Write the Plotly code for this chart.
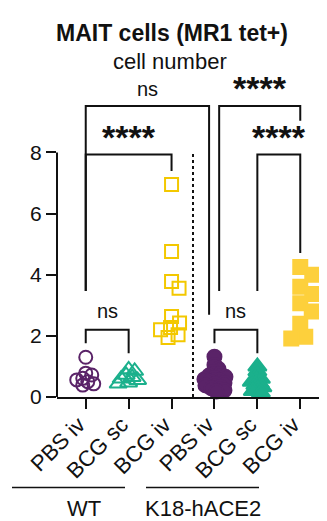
import plotly.graph_objects as go

# ---------------- data ----------------
categories = ["PBS iv", "BCG sc", "BCG iv", "PBS iv", "BCG sc", "BCG iv"]
groups = ["WT", "K18-hACE2"]

wt_pbs_iv = [1.30, 0.78, 0.72, 0.61, 0.56, 0.50, 0.43, 0.39]
wt_bcg_sc = [0.90, 0.85, 0.72, 0.65, 0.60, 0.55, 0.47, 0.43]
wt_bcg_iv = [6.95, 4.76, 3.78, 3.56, 2.63, 2.42, 2.27, 2.20, 2.04, 1.95]
k18_pbs_iv = [1.32, 1.05, 0.92, 0.82, 0.75, 0.70, 0.66, 0.62, 0.58, 0.54, 0.50,
              0.46, 0.42, 0.38, 0.33, 0.28, 0.22, 0.18]
k18_bcg_sc = [1.00, 0.85, 0.70, 0.60, 0.55, 0.50, 0.45, 0.40, 0.32, 0.25, 0.20, 0.15]
k18_bcg_iv = [4.25, 4.00, 3.61, 3.37, 3.07, 2.80, 2.40, 1.97, 1.91]

y_ticks = [0, 2, 4, 6, 8]

# comparisons: (left category, right category, label)
comparisons_top = [(0, 3, "ns"), (3, 5, "****")]
comparisons_mid = [(0, 2, "****"), (4, 5, "****")]
comparisons_low = [(0, 1, "ns"), (3, 4, "ns")]

# ---------------- geometry ----------------
W, H = 327, 521
ML, MR, MT, MB = 49, 6, 68, 132
PLOT_W = W - ML - MR
PLOT_H = H - MT - MB
YMAX = 10.5
XMIN, XMAX = -0.67, 5.67
PPU_Y = PLOT_H / YMAX
PPU_X = PLOT_W / (XMAX - XMIN)

FONT = "Liberation Sans, Arial, Helvetica, sans-serif"
INK = "#111111"

PURPLE = "#5a2368"
GREEN = "#1bb08c"
YELLOW_O = "#f3c800"
YELLOW_F = "#fdd03c"


def px_x(px):
    return (px - ML) / PLOT_W


def px_y(py):
    return (H - MB - py) / PLOT_H


def swarm(vals, d_px):
    placed = []
    offs = []
    for v in vals:
        y = v * PPU_Y
        best = None
        k = 0
        while best is None:
            cands = [0.0] if k == 0 else [k * 0.5, -k * 0.5]
            for x in cands:
                if all((x - a) ** 2 + (y - b) ** 2 >= d_px ** 2 for a, b in placed):
                    best = x
                    break
            k += 1
        placed.append((best, y))
        offs.append(best / PPU_X)
    return offs


series = [
    (0, wt_pbs_iv, "circle-open", PURPLE, 13, 6),
    (1, wt_bcg_sc, "triangle-up-open", GREEN, 15, 6),
    (2, wt_bcg_iv, "square-open", YELLOW_O, 13, 10),
    (3, k18_pbs_iv, "circle", PURPLE, 14, 5.5),
    (4, k18_bcg_sc, "triangle-up", GREEN, 16, 4.5),
    (5, k18_bcg_iv, "square", YELLOW_F, 14, 14),
]

fig = go.Figure()
for idx, vals, sym, col, size, d in series:
    offs = swarm(vals, d)
    fig.add_trace(go.Scatter(
        x=[idx + o for o in offs], y=vals, mode="markers",
        marker=dict(symbol=sym, color=col, size=size,
                    line=dict(color=col, width=2)),
        cliponaxis=False, showlegend=False, hoverinfo="y"))

shapes = []
annotations = []


def bracket(c1, c2, ytop, yl, yr, label, lsize, ly):
    line = dict(color=INK, width=2)
    shapes.append(dict(type="path", xref="x", yref="y",
                       path=f"M {c1},{yl} L {c1},{ytop} L {c2},{ytop} L {c2},{yr}",
                       line=line))
    annotations.append(dict(x=(c1 + c2) / 2, y=ly, xref="x", yref="y", text=label,
                            showarrow=False, yanchor="middle",
                            font=dict(family=FONT, size=lsize, color=INK)))


# top level
bracket(comparisons_top[0][0], comparisons_top[0][1] - 0.125, 9.52, 3.47, 2.69,
        comparisons_top[0][2], 20, 10.07)
bracket(comparisons_top[1][0] + 0.11, comparisons_top[1][1], 9.52, 3.47, 9.04,
        "<b>" + comparisons_top[1][2] + "</b>", 34, 10.1)
# mid level
bracket(comparisons_mid[0][0], comparisons_mid[0][1], 7.93, 3.47, 7.39,
        "<b>" + comparisons_mid[0][2] + "</b>", 34, 8.5)
bracket(comparisons_mid[1][0], comparisons_mid[1][1], 7.93, 3.47, 4.71,
        "<b>" + comparisons_mid[1][2] + "</b>", 34, 8.5)
# low level
for c1, c2, lab in comparisons_low:
    bracket(c1, c2, 2.2, 1.76, 1.43, lab, 20, 2.82)

# dotted separator
shapes.append(dict(type="line", xref="x", yref="y", x0=2.5, x1=2.5, y0=0, y1=8.05,
                   line=dict(color=INK, width=2, dash="dot")))
# y axis line (only up to 8)
shapes.append(dict(type="line", xref="paper", yref="y", x0=0, x1=0, y0=0, y1=8,
                   line=dict(color=INK, width=2)))

# group lines and labels
for (x0, x1, xc), name in zip([(4, 117, 57), (138, 251, 195)], groups):
    shapes.append(dict(type="line", xref="paper", yref="paper",
                       x0=px_x(x0), x1=px_x(x1), y0=px_y(479.5), y1=px_y(479.5),
                       line=dict(color=INK, width=1.5)))
    annotations.append(dict(x=px_x(xc), y=px_y(500), xref="paper", yref="paper",
                            text=name, showarrow=False, yanchor="middle",
                            font=dict(family=FONT, size=22, color=INK)))

# title
annotations.append(dict(x=px_x(164), y=px_y(25), xref="paper", yref="paper",
                        text="<b>MAIT cells (MR1 tet+)</b>", showarrow=False,
                        yanchor="middle", font=dict(family=FONT, size=23, color=INK)))
annotations.append(dict(x=px_x(162), y=px_y(53), xref="paper", yref="paper",
                        text="cell number", showarrow=False,
                        yanchor="middle", font=dict(family=FONT, size=22, color=INK)))

fig.update_layout(
    width=W, height=H,
    margin=dict(l=ML, r=MR, t=MT, b=MB, pad=0),
    paper_bgcolor="white", plot_bgcolor="white",
    shapes=shapes, annotations=annotations,
    font=dict(family=FONT, color=INK),
    xaxis=dict(range=[XMIN, XMAX], tickmode="array",
               tickvals=list(range(len(categories))), ticktext=categories,
               tickangle=-45, ticks="outside", ticklen=10, tickwidth=2,
               tickcolor=INK, showline=True, linecolor=INK, linewidth=2,
               showgrid=False, zeroline=False,
               ticklabelstandoff=-6, ticklabelshift=-7,
               tickfont=dict(family=FONT, size=22, color=INK)),
    yaxis=dict(range=[0, YMAX], tickmode="array", tickvals=y_ticks,
               ticks="outside", ticklen=10, tickwidth=2, tickcolor=INK,
               showline=False, showgrid=False, zeroline=False,
               tickfont=dict(family=FONT, size=21, color=INK)),
)

fig.write_html("out.html")
